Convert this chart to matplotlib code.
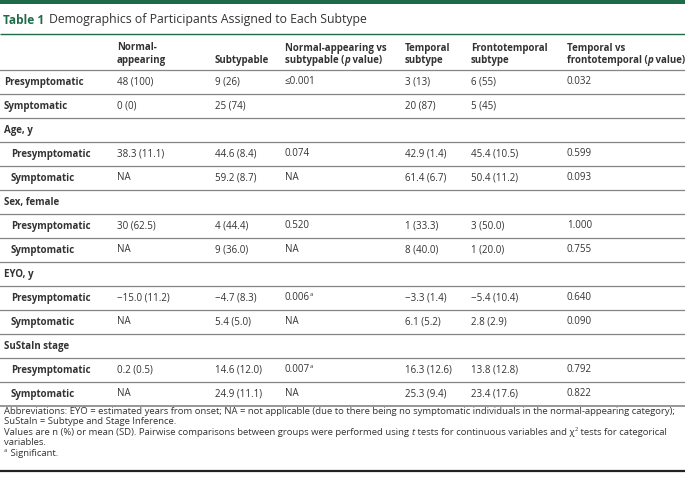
import matplotlib
matplotlib.use("Agg")
import matplotlib.pyplot as plt

# ---------------- data ----------------
title_label = "Table 1"
title_text = "Demographics of Participants Assigned to Each Subtype"

headers = [
    ["Normal-", "appearing"],
    ["", "Subtypable"],
    ["Normal-appearing vs", "subtypable (|p| value)"],
    ["Temporal", "subtype"],
    ["Frontotemporal", "subtype"],
    ["Temporal vs", "frontotemporal (|p| value)"],
]

# (label, indent, values)  -- values: None for group header rows; '^a' marks footnote
rows = [
    ("Presymptomatic", 0, ["48 (100)", "9 (26)", "≤0.001", "3 (13)", "6 (55)", "0.032"]),
    ("Symptomatic", 0, ["0 (0)", "25 (74)", "", "20 (87)", "5 (45)", ""]),
    ("Age, y", 0, None),
    ("Presymptomatic", 1, ["38.3 (11.1)", "44.6 (8.4)", "0.074", "42.9 (1.4)", "45.4 (10.5)", "0.599"]),
    ("Symptomatic", 1, ["NA", "59.2 (8.7)", "NA", "61.4 (6.7)", "50.4 (11.2)", "0.093"]),
    ("Sex, female", 0, None),
    ("Presymptomatic", 1, ["30 (62.5)", "4 (44.4)", "0.520", "1 (33.3)", "3 (50.0)", "1.000"]),
    ("Symptomatic", 1, ["NA", "9 (36.0)", "NA", "8 (40.0)", "1 (20.0)", "0.755"]),
    ("EYO, y", 0, None),
    ("Presymptomatic", 1, ["−15.0 (11.2)", "−4.7 (8.3)", "0.006^a", "−3.3 (1.4)", "−5.4 (10.4)", "0.640"]),
    ("Symptomatic", 1, ["NA", "5.4 (5.0)", "NA", "6.1 (5.2)", "2.8 (2.9)", "0.090"]),
    ("SuStaIn stage", 0, None),
    ("Presymptomatic", 1, ["0.2 (0.5)", "14.6 (12.0)", "0.007^a", "16.3 (12.6)", "13.8 (12.8)", "0.792"]),
    ("Symptomatic", 1, ["NA", "24.9 (11.1)", "NA", "25.3 (9.4)", "23.4 (17.6)", "0.822"]),
]

footnotes = [
    [("Abbreviations: EYO = estimated years from onset; NA = not applicable (due to there being no symptomatic individuals in the normal-appearing category);", "n")],
    [("SuStaIn = Subtype and Stage Inference.", "n")],
    [("Values are n (%) or mean (SD). Pairwise comparisons between groups were performed using ", "n"), ("t", "i"),
     (" tests for continuous variables and χ", "n"), ("2", "sup"), (" tests for categorical", "n")],
    [("variables.", "n")],
    [("a", "sup"), (" Significant.", "n")],
]

# ---------------- layout ----------------
W, H = 685, 480
GREEN = "#1e6b4a"
TXT = "#333333"
LINE = "#858585"
FONT = "Open Sans"
BODY = 7.0
FOOT = 6.8
BOLD = "bold"

col_x = [117, 215, 285, 405, 471, 567]
label_x = 4
indent_px = 7
header_y = [48, 61]
row0_y = 82
pitch = 24

fig = plt.figure(figsize=(W / 100, H / 100), dpi=100)
ax = fig.add_axes([0, 0, 1, 1])
ax.set_xlim(0, W)
ax.set_ylim(H, 0)
ax.axis("off")
fig.canvas.draw()
renderer = fig.canvas.get_renderer()


def width_px(t):
    return t.get_window_extent(renderer=renderer).width


def segs(x, y, parts, size, weight="normal", color=TXT):
    for s, style in parts:
        if s == "":
            continue
        kw = dict(family=FONT, color=color, va="center", ha="left", weight=weight)
        if style == "sup":
            t = ax.text(x, y - size * 0.45, s, fontsize=size * 0.62, **kw)
            x += width_px(t) + 0.3
            continue
        elif style == "i":
            t = ax.text(x, y, s, style="italic", fontsize=size, **kw)
        else:
            t = ax.text(x, y, s, fontsize=size, **kw)
        x += width_px(t)
    return x


def parse(s):
    if "^" in s:
        base, sup = s.split("^")
        return [(base, "n"), (sup, "sup")]
    pieces = s.split("|")
    return [(p, "i" if i % 2 == 1 else "n") for i, p in enumerate(pieces)]


# top green bar and title
ax.axhspan(0, 3.5, color=GREEN, lw=0)
t = ax.text(label_x - 1, 20, title_label, family=FONT, weight="bold", fontsize=8.6, color=GREEN,
            va="center", ha="left")
ax.text(label_x - 1 + width_px(t) + 5, 20, title_text, family=FONT, fontsize=8.8, color=TXT,
        va="center", ha="left")
ax.plot([0, W], [34, 34], color=GREEN, lw=1.0, solid_capstyle="butt")

# headers
for cx, hl in zip(col_x, headers):
    for hy, line in zip(header_y, hl):
        segs(cx, hy, parse(line), BODY, weight=BOLD)

ax.plot([0, W], [70, 70], color=LINE, lw=0.9)

# body rows
for i, (lab, ind, vals) in enumerate(rows):
    y = row0_y + i * pitch
    segs(label_x + ind * indent_px, y, [(lab, "n")], BODY, weight=BOLD)
    if vals is not None:
        for cx, v in zip(col_x, vals):
            segs(cx, y, parse(v), BODY)
    ly = y + 12
    ax.plot([0, W], [ly, ly], color=LINE, lw=0.9 if i < len(rows) - 1 else 1.2)

# footnotes
fy = 411
for fl in footnotes:
    segs(label_x, fy, fl, FOOT)
    fy += 10.6

ax.plot([0, W], [471, 471], color="#222222", lw=1.6)

fig.savefig("out.png", dpi=100)
